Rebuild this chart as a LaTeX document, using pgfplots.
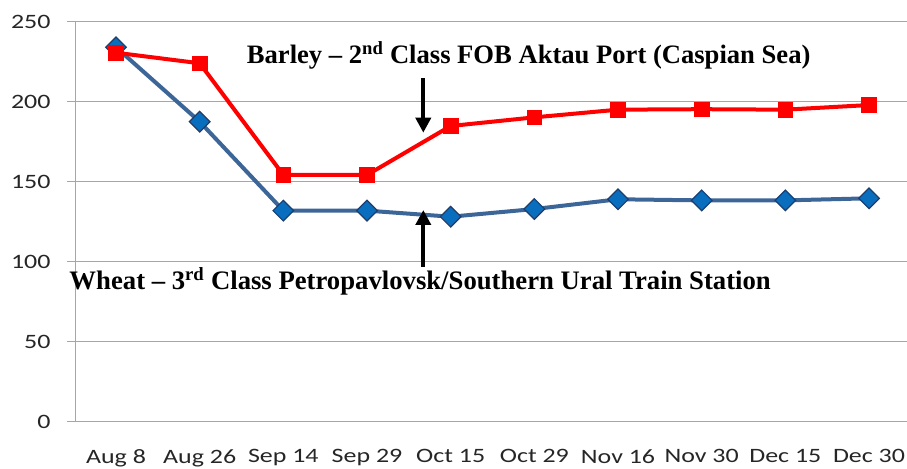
\documentclass[border=0pt]{standalone}
\usepackage{pgfplots}
\pgfplotsset{compat=1.18}
\usepackage{fontspec}
\usepackage{graphicx}
\usetikzlibrary{arrows.meta}
\setmainfont{Liberation Serif}
\newfontfamily\carlito{Carlito}
\definecolor{wline}{HTML}{3C6598}
\definecolor{wfill}{HTML}{0A6EBE}
\definecolor{wedge}{HTML}{1F3D6B}
\definecolor{gridc}{HTML}{A6A6A6}
\newcommand\sx[1]{\scalebox{1.27}[1]{#1}}
\begin{document}
\begin{tikzpicture}[x=1bp,y=1bp]
\useasboundingbox (0,0) rectangle (907,469);
\begin{axis}[
  at={(75bp,47bp)}, anchor=south west,
  scale only axis,
  width=832bp, height=400bp,
  xmin=-0.49, xmax=9.454,
  ymin=0, ymax=250,
  axis lines=left,
  axis line style={gridc, line width=1bp, -},
  ytick={0,50,100,150,200,250},
  xtick={0,...,9},
  xticklabels={\sx{Aug 8},\sx{Aug 26},\sx{Sep 14},\sx{Sep 29},\sx{Oct 15},\sx{Oct 29},\sx{Nov 16},\sx{Nov 30},\sx{Dec 15},\sx{Dec 30}},
  yticklabel={\sx{\pgfmathprintnumber{\tick}}},
  /pgf/number format/assume math mode=true,
  extra x ticks={-0.5,0.5,1.5,2.5,3.5,4.5,5.5,6.5,7.5,8.5},
  extra x tick labels={},
  extra x tick style={major tick length=10bp, tick style={gridc, line width=1bp}},
  major x tick style={draw=none},
  ymajorgrids,
  grid style={gridc, line width=1bp},
  tick align=outside,
  major tick length=8bp,
  tick style={gridc, line width=1bp},
  ticklabel style={font=\carlito\fontsize{20.5}{24}\selectfont, text=black!85},
  xticklabel style={yshift=-16bp},
  yticklabel style={xshift=-13bp},
  clip=false,
]
\addplot[wline, line width=4bp, mark=square*, mark size=7.3bp,
  mark options={rotate=45, fill=wfill, draw=wedge, line width=1.2bp}]
  coordinates {(0,234.2) (1,187.7) (2,132.1) (3,132.1) (4,128.3) (5,133.1) (6,139.2) (7,138.5) (8,138.5) (9,139.8)};
\addplot[red, line width=4bp, mark=square*, mark size=7.3bp,
  mark options={fill=red, draw=red, line width=0.5bp}]
  coordinates {(0,230.8) (1,224.2) (2,154.4) (3,154.4) (4,185) (5,190.4) (6,195.2) (7,195.5) (8,195.2) (9,198.1)};
\end{axis}
\draw[black, line width=4bp, -{Triangle[width=15bp,length=15bp]}] (423.3,469-78.3) -- (423.3,469-132.7);
\draw[black, line width=4bp, -{Triangle[width=15bp,length=15bp]}] (423.3,469-266.7) -- (423.3,469-210);
\node[font=\bfseries\fontsize{26.7}{30}\selectfont, inner sep=0pt, anchor=base west] at (246.7,469-63.3) {Barley -- 2\textsuperscript{nd} Class FOB Aktau Port (Caspian Sea)};
\node[font=\bfseries\fontsize{26.8}{30}\selectfont, inner sep=0pt, anchor=base west] at (69.3,469-290) {Wheat -- 3\textsuperscript{rd} Class Petropavlovsk/Southern Ural Train Station};
\end{tikzpicture}
\end{document}
